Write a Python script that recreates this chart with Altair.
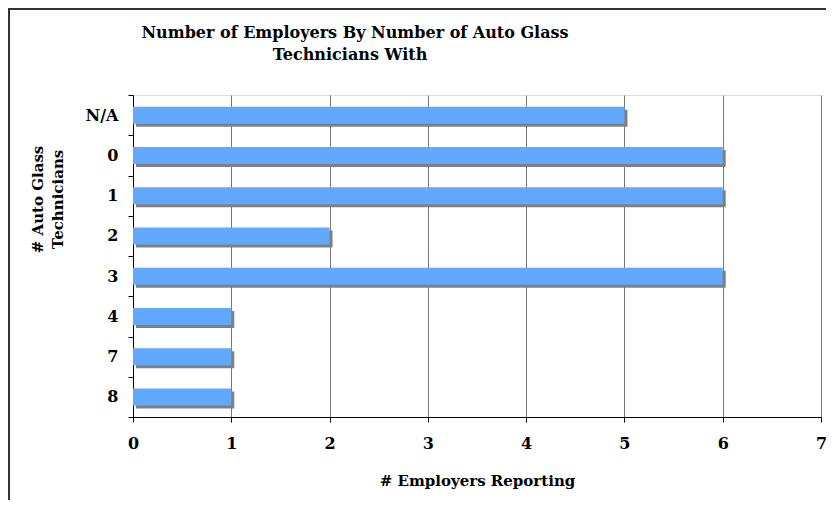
import altair as alt
import pandas as pd

categories = ["N/A", "0", "1", "2", "3", "4", "7", "8"]
counts = [5, 6, 6, 2, 6, 1, 1, 1]
x_ticks = [0, 1, 2, 3, 4, 5, 6, 7]

title_line1 = "Number of Employers By Number of Auto Glass"
title_line2 = "Technicians With"
y_title = ["# Auto Glass", "Technicians"]
x_title = "# Employers Reporting"

df = pd.DataFrame({"cat": categories, "n": counts})

FONT = "DejaVu Serif"
W, H = 688, 322

y_axis = alt.Axis(
    title=y_title, tickBand="extent", labelFont=FONT, labelFontSize=16,
    labelFontWeight="bold", labelColor="black", labelPadding=10,
    tickSize=5, tickColor="black", domainColor="black",
    titleFont=FONT, titleFontSize=15, titleFontWeight="bold", titleColor="black",
    titleAngle=270, titleX=-96, titleY=104, titleAlign="center", titleBaseline="middle",
    titleLineHeight=20, grid=False,
)
x_axis = alt.Axis(
    values=x_ticks, title=x_title, labelFont=FONT, labelFontSize=16,
    labelFontWeight="bold", labelColor="black", labelPadding=13, labelFlush=False,
    tickSize=5, tickColor="black", domainColor="black",
    titleFont=FONT, titleFontSize=15, titleFontWeight="bold", titleColor="black",
    titlePadding=22, grid=True, gridColor="#7a7a7a", gridWidth=1,
)

y_enc = alt.Y("cat:N", sort=categories,
              scale=alt.Scale(paddingInner=0, paddingOuter=0), axis=y_axis)
x_enc = alt.X("n:Q", scale=alt.Scale(domain=[0, 7], nice=False, zero=True), axis=x_axis)

shadow = alt.Chart(df).mark_bar(
    size=17, color="#808080", xOffset=3, x2Offset=3, yOffset=3, y2Offset=3
).encode(x=x_enc, y=y_enc)

bars = alt.Chart(df).mark_bar(size=17, color="#62A8FF", x2Offset=1).encode(x=x_enc, y=y_enc)

border_left = alt.Chart(df).mark_rule(color="#333333", strokeWidth=2).encode(
    x=alt.value(-124), y=alt.value(-90), y2=alt.value(H + 100)
)
border_top = alt.Chart(df).mark_rule(color="#333333", strokeWidth=2).encode(
    y=alt.value(-86), x=alt.value(-125), x2=alt.value(W + 10)
)

t1 = alt.Chart(pd.DataFrame({"t": [title_line1]})).mark_text(
    font=FONT, fontSize=16, fontWeight="bold", color="black", align="center", baseline="alphabetic"
).encode(text="t:N", x=alt.value(222), y=alt.value(-57))
t2 = alt.Chart(pd.DataFrame({"t": [title_line2]})).mark_text(
    font=FONT, fontSize=16, fontWeight="bold", color="black", align="center", baseline="alphabetic"
).encode(text="t:N", x=alt.value(217), y=alt.value(-35))

chart = alt.layer(border_left, border_top, shadow, bars, t1, t2).properties(
    width=W, height=H,
    autosize=alt.AutoSizeParams(type="none"),
    padding={"left": 125, "top": 87, "right": 5, "bottom": 83},
).configure_view(stroke="#808080", strokeWidth=1).configure(background="white")

chart.save("out.html", embed_options={"renderer": "svg", "actions": False})
